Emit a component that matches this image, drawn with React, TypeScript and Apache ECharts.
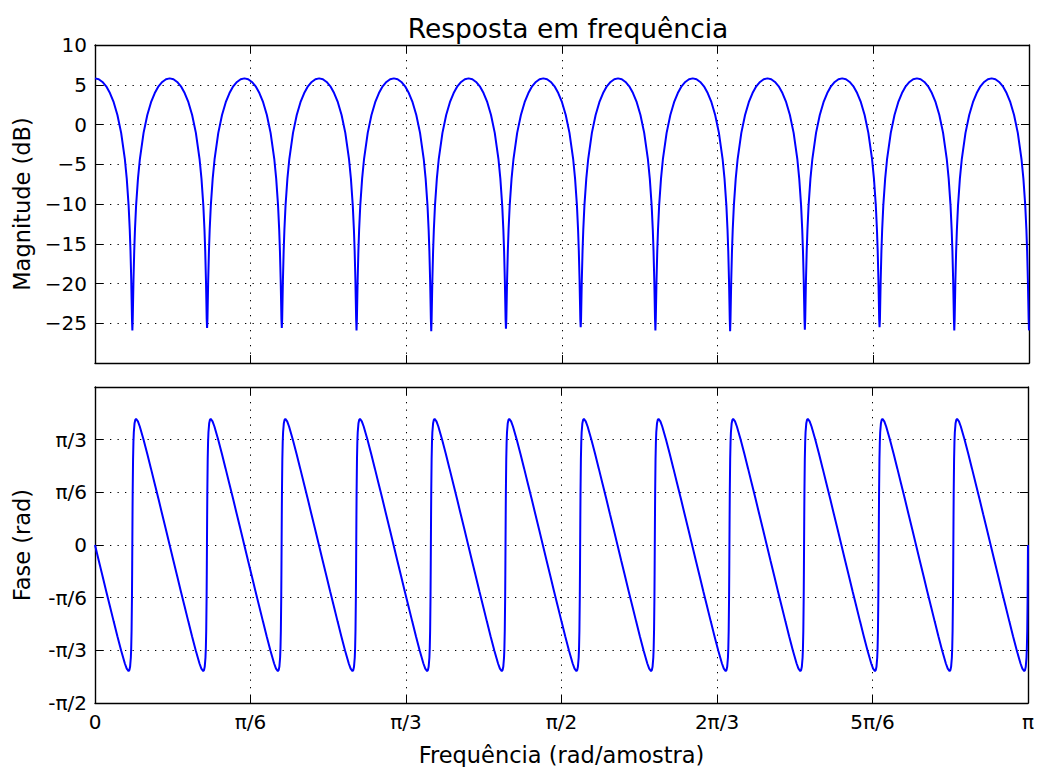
import React, { useEffect, useRef } from "react";
import * as echarts from "echarts";

// ---- values ----
const X_TICK_LABELS = ["0", "π/6", "π/3", "π/2", "2π/3", "5π/6", "π"];
const PHASE_TICK_LABELS = ["-π/2", "-π/3", "-π/6", "0", "π/6", "π/3", ""];
// null (notch) positions, as fractions of π
const NULLS_OVER_PI = [0.04, 0.12, 0.2, 0.28, 0.36, 0.44, 0.52, 0.6, 0.68, 0.76, 0.84, 0.92, 1.0];
// depth of each notch (dB)
const NULL_DEPTHS_DB = [-25.9, -25.6, -25.6, -25.9, -26.0, -25.7, -25.5, -25.9, -26.0, -25.8, -25.5, -25.9, -25.9];
// shape of one half-lobe of the magnitude: offset from the notch (fraction of half the notch spacing) → dB
const MAG_T = [0.01, 0.02, 0.03, 0.05, 0.07, 0.1, 0.15, 0.2, 0.3, 0.4, 0.5, 0.6, 0.7, 0.8, 0.9, 1.0];
const MAG_DB = [-24.5, -22.0, -19.6, -15.9, -13.2, -10.2, -6.8, -4.4, -1.05, 1.2, 2.8, 3.95, 4.8, 5.35, 5.7, 5.8];
// shape of the phase after a notch: offset (fraction of half the notch spacing) → degrees
const PH_T = [0, 0.005, 0.01, 0.02, 0.03, 0.04, 0.06, 0.08, 0.1, 0.15, 0.2, 0.3, 0.4, 0.5, 0.6, 0.7, 0.8, 0.9, 1.0];
const PH_DEG = [0, 16.6, 30.6, 49, 58.8, 64.2, 69.4, 71.3, 71.8, 70.4, 67.5, 60.1, 52.0, 43.5, 34.9, 26.3, 17.5, 8.8, 0];

const PI = Math.PI;
const STEP = PI / 6;

function buildMagnitude(): number[][] {
  const pts: number[][] = [];
  const nulls = NULLS_OVER_PI.map((v) => v * PI);
  const h0 = nulls[0];
  for (let i = MAG_T.length - 1; i >= 0; i--) pts.push([nulls[0] - MAG_T[i] * h0, MAG_DB[i]]);
  pts.push([nulls[0], NULL_DEPTHS_DB[0]]);
  for (let k = 0; k < nulls.length - 1; k++) {
    const half = (nulls[k + 1] - nulls[k]) / 2;
    for (let i = 0; i < MAG_T.length; i++) pts.push([nulls[k] + MAG_T[i] * half, MAG_DB[i]]);
    for (let i = MAG_T.length - 2; i >= 0; i--) pts.push([nulls[k + 1] - MAG_T[i] * half, MAG_DB[i]]);
    pts.push([nulls[k + 1], NULL_DEPTHS_DB[k + 1]]);
  }
  return pts;
}

function buildPhase(): number[][] {
  const pts: number[][] = [];
  const nulls = NULLS_OVER_PI.map((v) => v * PI);
  const rad = (d: number) => (d * PI) / 180;
  const h0 = nulls[0];
  for (let i = PH_T.length - 1; i >= 1; i--) pts.push([nulls[0] - PH_T[i] * h0, -rad(PH_DEG[i])]);
  pts.push([nulls[0], 0]);
  for (let k = 0; k < nulls.length - 1; k++) {
    const half = (nulls[k + 1] - nulls[k]) / 2;
    for (let i = 1; i < PH_T.length; i++) pts.push([nulls[k] + PH_T[i] * half, rad(PH_DEG[i])]);
    for (let i = PH_T.length - 2; i >= 1; i--) pts.push([nulls[k + 1] - PH_T[i] * half, -rad(PH_DEG[i])]);
    pts.push([nulls[k + 1], 0]);
  }
  return pts;
}

const FONT = "DejaVu Sans";
const GRID_LINE = { show: true, lineStyle: { color: "#000", width: 1, type: [1.3, 6.2] as any } };
const AXIS_LINE = { show: true, lineStyle: { color: "#000", width: 1.4 } };
const TICK = { show: true, inside: true, length: 8, lineStyle: { color: "#000", width: 1 } };

function xAxisFor(grid: number, position: "top" | "bottom", labels: boolean, primary: boolean, name?: string) {
  return {
    type: "value",
    gridIndex: grid,
    position,
    min: 0,
    max: PI,
    interval: STEP,
    axisLine: { ...AXIS_LINE, onZero: false },
    axisTick: TICK,
    splitLine: primary ? GRID_LINE : { show: false },
    axisLabel: {
      show: labels,
      color: "#000",
      fontFamily: FONT,
      fontSize: 20,
      margin: 9,
      formatter: (v: number) => X_TICK_LABELS[Math.round(v / STEP)] ?? "",
    },
    name,
    nameLocation: "middle",
    nameGap: 40,
    nameTextStyle: { color: "#000", fontFamily: FONT, fontSize: 22.5 },
  };
}

export default function App() {
  const ref = useRef<HTMLDivElement>(null);
  useEffect(() => {
    document.body.style.margin = "0";
    if (!ref.current) return;
    const chart = echarts.init(ref.current, undefined, { renderer: "svg" });
    const magYBase = {
      type: "value",
      gridIndex: 0,
      min: -30,
      max: 10,
      interval: 5,
      axisLine: { ...AXIS_LINE, onZero: false },
      axisTick: TICK,
    };
    const phYBase = {
      type: "value",
      gridIndex: 1,
      min: -PI / 2,
      max: PI / 2,
      interval: STEP,
      axisLine: { ...AXIS_LINE, onZero: false },
      axisTick: TICK,
    };
    chart.setOption({
      animation: false,
      backgroundColor: "#fff",
      title: {
        text: "Resposta em frequência",
        left: 563,
        top: 10,
        textAlign: "center",
        textStyle: { color: "#000", fontFamily: FONT, fontSize: 26.5, fontWeight: "normal" },
      },
      grid: [
        { left: 95, top: 45, width: 934, height: 318, containLabel: false },
        { left: 95, top: 387, width: 934, height: 317, containLabel: false },
      ],
      xAxis: [
        xAxisFor(0, "bottom", false, true),
        xAxisFor(0, "top", false, false),
        xAxisFor(1, "bottom", true, true, "Frequência (rad/amostra)"),
        xAxisFor(1, "top", false, false),
      ],
      yAxis: [
        {
          ...magYBase,
          position: "left",
          splitLine: GRID_LINE,
          axisLabel: {
            color: "#000",
            fontFamily: FONT,
            fontSize: 20,
            margin: 8,
            formatter: (v: number) => {
              const r = Math.round(v);
              if (r === -30) return "";
              return r < 0 ? "\u2212" + Math.abs(r) : String(r);
            },
          },
          name: "Magnitude (dB)",
          nameLocation: "middle",
          nameRotate: 90,
          nameGap: 62,
          nameTextStyle: { color: "#000", fontFamily: FONT, fontSize: 22.5 },
        },
        { ...magYBase, position: "right", splitLine: { show: false }, axisLabel: { show: false } },
        {
          ...phYBase,
          position: "left",
          splitLine: GRID_LINE,
          axisLabel: {
            color: "#000",
            fontFamily: FONT,
            fontSize: 20,
            margin: 8,
            formatter: (v: number) => PHASE_TICK_LABELS[Math.round(v / STEP) + 3] ?? "",
          },
          name: "Fase (rad)",
          nameLocation: "middle",
          nameRotate: 90,
          nameGap: 62,
          nameTextStyle: { color: "#000", fontFamily: FONT, fontSize: 22.5 },
        },
        { ...phYBase, position: "right", splitLine: { show: false }, axisLabel: { show: false } },
      ],
      series: [
        {
          type: "line",
          xAxisIndex: 0,
          yAxisIndex: 0,
          data: buildMagnitude(),
          showSymbol: false,
          symbol: "none",
          lineStyle: { color: "#0000ff", width: 2 },
          clip: true,
          z: 3,
        },
        {
          type: "line",
          xAxisIndex: 2,
          yAxisIndex: 2,
          data: buildPhase(),
          showSymbol: false,
          symbol: "none",
          lineStyle: { color: "#0000ff", width: 2 },
          clip: true,
          z: 3,
        },
      ],
    });
    return () => chart.dispose();
  }, []);
  return <div ref={ref} style={{ width: 1037, height: 767 }} />;
}
